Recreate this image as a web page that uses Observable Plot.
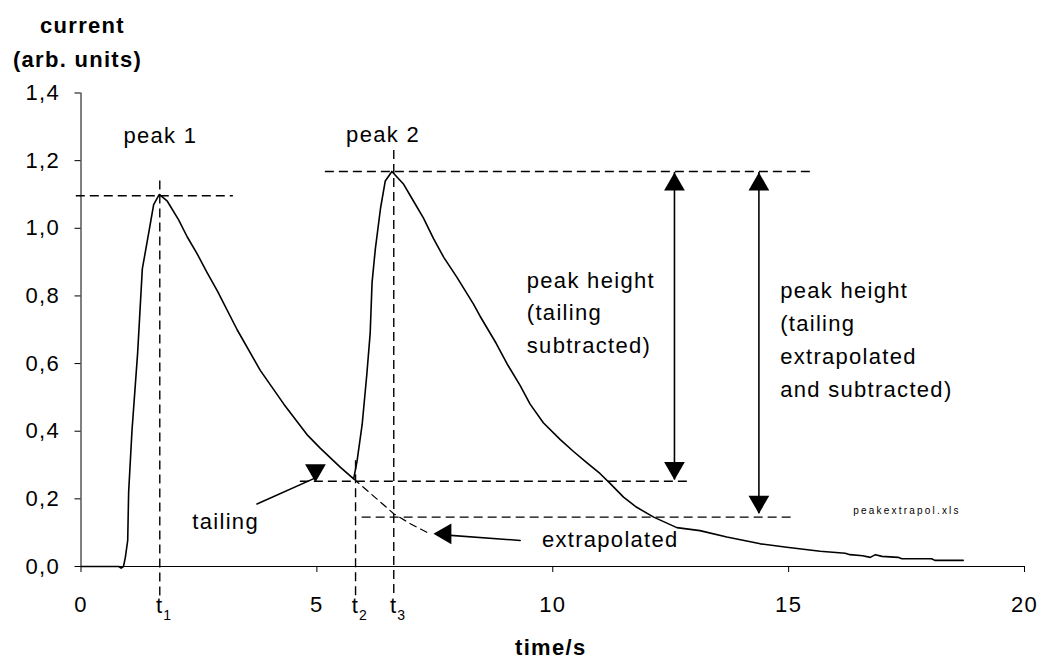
<!DOCTYPE html>
<html><head><meta charset="utf-8">
<script src="https://cdn.jsdelivr.net/npm/d3@7"></script>
<script src="https://cdn.jsdelivr.net/npm/@observablehq/plot@0.6"></script>
<style>body{margin:0;background:#fff}</style>
</head><body><div id="chart"></div>
<script>
// measured current trace (time in s, current in arb. units)
const time = [0, 0.5, 0.8, 0.85, 0.9, 0.94, 0.99, 1.01, 1.08, 1.2, 1.24, 1.3, 1.44, 1.54, 1.66, 1.83, 2.07, 2.25, 2.46, 2.67, 2.89, 3.31, 3.8, 4.3, 4.79, 5.07, 5.5, 5.78, 5.85, 5.96, 6.06, 6.13, 6.17, 6.24, 6.35, 6.45, 6.59, 6.84, 7.05, 7.26, 7.47, 7.69, 7.97, 8.32, 8.46, 8.8, 9.05, 9.31, 9.52, 9.8, 10.16, 10.44, 10.72, 11.0, 11.22, 11.5, 11.78, 12.14, 12.63, 13.12, 13.69, 14.4, 14.96, 15.67, 16.2, 16.3, 16.57, 16.73, 16.84, 16.98, 17.32, 17.4, 18.03, 18.1, 18.7];
const current = [0, 0, 0, -0.005, 0.0, 0.027, 0.077, 0.22, 0.40, 0.63, 0.73, 0.88, 0.99, 1.07, 1.10, 1.08, 1.025, 0.975, 0.925, 0.87, 0.815, 0.70, 0.58, 0.48, 0.39, 0.35, 0.293, 0.259, 0.31, 0.42, 0.57, 0.69, 0.84, 0.94, 1.06, 1.14, 1.168, 1.13, 1.08, 1.03, 0.97, 0.914, 0.855, 0.776, 0.74, 0.66, 0.595, 0.535, 0.48, 0.425, 0.375, 0.34, 0.307, 0.275, 0.245, 0.205, 0.175, 0.146, 0.115, 0.106, 0.087, 0.067, 0.057, 0.045, 0.039, 0.035, 0.032, 0.027, 0.035, 0.030, 0.027, 0.023, 0.023, 0.018, 0.018];

// extrapolated tailing of peak 1
const extrapTime = [5.78, 6.27, 6.63, 7.0, 7.33];
const extrapCurrent = [0.259, 0.20, 0.156, 0.125, 0.101];

// axis ticks
const xTicks = [0, 5, 10, 15, 20];
const yTicks = [0, 0.2, 0.4, 0.6, 0.8, 1.0, 1.2, 1.4];

// marker times t1, t2, t3
const markerTimes = [1.67, 5.82, 6.63];
const markerSubs = ["1", "2", "3"];
const markerTops = [1.14, 0.313, 1.23];

// reference levels (dashed horizontals)
const levelY  = [1.096, 1.168, 0.252, 0.146];
const levelX1 = [-0.1, 5.18, 4.65, 5.96];
const levelX2 = [3.23, 15.52, 12.95, 15.07];

// peak-height double arrows
const heightArrowX = [12.58, 14.37];
const heightArrowTop = [1.165, 1.165];
const heightArrowBottom = [0.256, 0.156];

// pointer arrows
const tailingArrowX = [3.73, 4.97];
const tailingArrowY = [0.185, 0.262];
const extrapArrowX = [7.55, 9.31];
const extrapArrowY = [0.095, 0.077];

const FONT = "'Liberation Sans', Arial, Helvetica, sans-serif";
const fmt = d => d.toFixed(1).replace(".", ",");
const pts = (xs, ys) => xs.map((x, i) => ({x, y: ys[i]}));

const chart = Plot.plot({
  width: 1045,
  height: 659,
  marginLeft: 80.5,
  marginRight: 21,
  marginTop: 92.5,
  marginBottom: 93,
  style: {fontFamily: FONT, fontSize: "21px", background: "white", color: "black", overflow: "visible"},
  x: {domain: [0, 20]},
  y: {domain: [0, 1.4]},
  marks: [
    Plot.ruleY([0], {x1: 0, x2: 20, stroke: "black", strokeWidth: 1}),
    Plot.ruleX([0], {y1: 0, y2: 1.4, stroke: "black", strokeWidth: 1}),
    Plot.axisX({ticks: xTicks, tickSize: 6, tickPadding: 24, tickFormat: d => String(d), label: null, fontSize: 22}),
    Plot.axisY({ticks: yTicks, tickSize: 6, tickPadding: 15, tickFormat: fmt, label: null, fontSize: 22}),
    // dashed reference lines
    Plot.ruleX(markerTimes, {x: d => d, y1: markerTops, y2: -0.092, stroke: "black", strokeWidth: 1.4, strokeDasharray: "9,5"}),
    Plot.ruleY(levelY, {y: d => d, x1: levelX1, x2: levelX2, stroke: "black", strokeWidth: 1.4, strokeDasharray: "9,5"}),
    Plot.line(pts(extrapTime, extrapCurrent), {x: "x", y: "y", stroke: "black", strokeWidth: 1.2, strokeDasharray: "7,5"}),
    // main trace
    Plot.line(pts(time, current), {x: "x", y: "y", stroke: "black", strokeWidth: 1.6}),
    // double arrows
    Plot.ruleX(heightArrowX, {x: d => d, y1: heightArrowBottom, y2: heightArrowTop, stroke: "black", strokeWidth: 1.6}),
    Plot.dot(heightArrowX, {x: d => d, y: heightArrowTop, symbol: "triangle", r: 7.7, fill: "black", stroke: "none", dy: 12}),
    Plot.dot(heightArrowX, {x: d => d, y: heightArrowBottom, symbol: "triangle", r: 7.7, fill: "black", stroke: "none", rotate: 180, dy: -12}),
    // pointer arrows
    Plot.line(pts(tailingArrowX, tailingArrowY), {x: "x", y: "y", stroke: "black", strokeWidth: 1.6}),
    Plot.dot([0], {x: 4.97, y: 0.249, symbol: "triangle", r: 7.7, fill: "black", stroke: "none", rotate: 180, dy: -12}),
    Plot.line(pts(extrapArrowX, extrapArrowY), {x: "x", y: "y", stroke: "black", strokeWidth: 1.6}),
    Plot.dot([0], {x: 7.47, y: 0.0966, symbol: "triangle", r: 7.7, fill: "black", stroke: "none", rotate: -90, dx: 12}),
    // annotations
    Plot.text(["peak 1"], {x: 0.90, y: 1.273, text: d => d, textAnchor: "start", fontSize: 22}),
    Plot.text(["peak 2"], {x: 5.62, y: 1.276, text: d => d, textAnchor: "start", fontSize: 22}),
    Plot.text(["peak height\n(tailing\nsubtracted)"], {x: 9.45, y: 0.893, text: d => d, textAnchor: "start", lineAnchor: "top", lineHeight: 1.48, fontSize: 22}),
    Plot.text(["peak height\n(tailing\nextrapolated\nand subtracted)"], {x: 14.82, y: 0.865, text: d => d, textAnchor: "start", lineAnchor: "top", lineHeight: 1.51, fontSize: 22}),
    Plot.text(["tailing"], {x: 2.36, y: 0.133, text: d => d, textAnchor: "start", fontSize: 22}),
    Plot.text(["extrapolated"], {x: 9.77, y: 0.078, text: d => d, textAnchor: "start", fontSize: 22}),
    Plot.text(["peakextrapol.xls"], {x: 16.37, y: 0.166, text: d => d, textAnchor: "start", fontSize: 10}),
    // t labels with subscripts
    Plot.text(markerTimes, {x: d => d, y: -0.118, text: () => "t", fontSize: 22}),
    Plot.text(markerTimes, {x: d => d, y: -0.146, text: (d, i) => markerSubs[i], fontSize: 14, dx: 8}),
    // axis titles
    Plot.text(["current"], {frameAnchor: "top-left", text: d => d, textAnchor: "middle", lineAnchor: "middle", fontWeight: "bold", fontSize: 22, dx: 1.5, dy: -67.3}),
    Plot.text(["(arb. units)"], {frameAnchor: "top-left", text: d => d, textAnchor: "middle", lineAnchor: "middle", fontWeight: "bold", fontSize: 22, dx: -3.5, dy: -33}),
    Plot.text(["time/s"], {frameAnchor: "bottom", text: d => d, textAnchor: "middle", lineAnchor: "middle", fontWeight: "bold", fontSize: 22, dx: -2, dy: 81})
  ]
});

d3.select(chart).selectAll("text").style("letter-spacing", "1.3px");
d3.select(chart).selectAll("text").filter(function() { return this.textContent === "peakextrapol.xls"; })
  .style("letter-spacing", "2.2px");
document.getElementById("chart").appendChild(chart);
</script>
</body></html>
